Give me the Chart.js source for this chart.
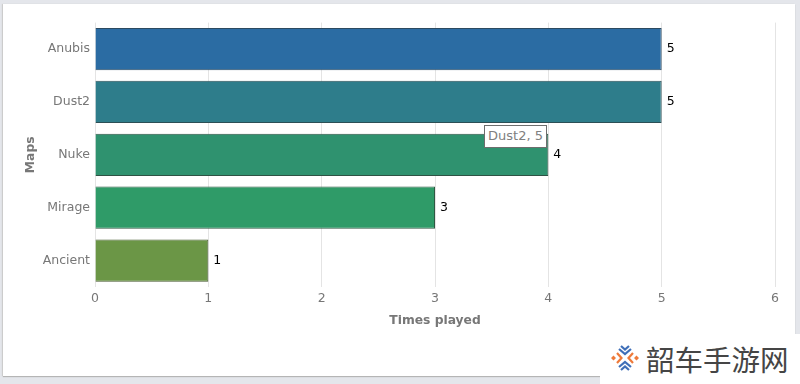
<!DOCTYPE html>
<html>
<head>
<meta charset="utf-8">
<title>Maps played</title>
<script src="https://cdn.jsdelivr.net/npm/chart.js@4"></script>
<style>
    html, body { margin: 0; padding: 0; width: 800px; height: 384px; overflow: hidden; background: #e4e6eb; }
    #card { position: absolute; left: 3px; top: 4px; width: 792px; height: 372px; background: #fff; box-shadow: 0 1px 1px #b5b5b5, -1px 0 1px #d0d0d0; }
    #chartBox { position: absolute; left: 0; top: 0; width: 800px; height: 384px; }
    #hover { position: absolute; left: 484px; top: 125px; box-sizing: border-box; width: 63px; height: 23px;
             background: #fff; border: 1.5px solid #6e6e6e; color: #808080; text-align: center;
             font: 13px/20px "DejaVu Sans", sans-serif; white-space: nowrap; }
    #mark { position: absolute; left: 600px; top: 334px; width: 200px; height: 50px; background: #fff; }
    #mark svg { position: absolute; left: 11px; top: 10px; }
    #mark span { position: absolute; left: 46px; top: 6px; font: 28.5px/38px "Noto Sans CJK SC", sans-serif; color: #454545; white-space: nowrap; }
</style>
</head>
<body>
<div id="card"></div>
<div id="chartBox"><canvas id="mapsChart" width="800" height="384"></canvas></div>
<div id="hover"></div>
<div id="mark">
    <svg width="28" height="28" viewBox="0 0 28 28">
        <g fill="none" stroke-width="2.2">
            <path d="M8 5 L14 10 L20 5 M10 2 L14 5.5 L18 2" stroke="#3f6fb8" />
            <path d="M8 23 L14 18 L20 23 M10 26 L14 22.5 L18 26" stroke="#3f6fb8" />
            <path d="M6 9 L10.5 14 L6 19" stroke="#ee7a3a" />
            <path d="M22 9 L17.5 14 L22 19" stroke="#ee7a3a" />
        </g>
        <path d="M2.5 11.5 L5 14 L2.5 16.5 L0 14 Z M25.5 11.5 L28 14 L25.5 16.5 L23 14 Z" fill="#ee7a3a" />
    </svg>
    <span>韶车手游网</span>
</div>

<script>
// ===== DATA =====
const maps = ['Anubis', 'Dust2', 'Nuke', 'Mirage', 'Ancient'];
const timesPlayed = [5, 5, 4, 3, 1];
const barColors = ['#2b6ca3', '#2e7d8b', '#2f926f', '#2f9b68', '#6b9646'];
const barBorders = ['#2c4a60', '#2c4f55', '#2e5244', '#2e5842', '#46592f'];
const hoveredIndex = 1;

const fontName = '"DejaVu Sans", sans-serif';

document.getElementById('hover').textContent = maps[hoveredIndex] + ', ' + timesPlayed[hoveredIndex];

// Value labels at the end of each bar
const barValueLabels = {
    id: 'barValueLabels',
    afterDatasetsDraw(chart) {
        const ctx = chart.ctx;
        ctx.save();
        ctx.fillStyle = '#000';
        ctx.font = '12.5px ' + fontName;
        ctx.textAlign = 'left';
        ctx.textBaseline = 'middle';
        chart.getDatasetMeta(0).data.forEach((bar, i) => {
            ctx.fillText(timesPlayed[i], bar.x + 5, bar.y);
        });
        ctx.restore();
    }
};

new Chart(document.getElementById('mapsChart').getContext('2d'), {
    type: 'bar',
    data: {
        labels: maps,
        datasets: [{
            data: timesPlayed,
            backgroundColor: barColors,
            borderColor: barBorders,
            borderWidth: 1,
            categoryPercentage: 1,
            barPercentage: 0.8
        }]
    },
    options: {
        indexAxis: 'y',
        responsive: false,
        animation: false,
        layout: { padding: { left: 23, top: 22.6, right: 25, bottom: 56 } },
        plugins: { legend: { display: false }, tooltip: { enabled: false } },
        scales: {
            x: {
                min: 0,
                max: 6,
                afterFit(scale) { scale.height = 41; },
                title: {
                    display: true,
                    text: 'Times played',
                    color: '#777',
                    padding: 0,
                    font: { family: fontName, size: 12.3, weight: 'bold' }
                },
                ticks: { stepSize: 1, color: '#777', padding: 4, font: { family: fontName, size: 12.5 } },
                grid: { color: '#e4e4e4', tickLength: 0 },
                border: { display: false }
            },
            y: {
                afterFit(scale) { scale.width = 72; },
                title: {
                    display: true,
                    text: 'Maps',
                    color: '#777',
                    padding: 0,
                    font: { family: fontName, size: 12.3, weight: 'bold' }
                },
                ticks: { color: '#777', padding: 5, font: { family: fontName, size: 12.5 } },
                grid: { display: false, tickLength: 0 },
                border: { display: false }
            }
        }
    },
    plugins: [barValueLabels]
});
</script>
</body>
</html>
